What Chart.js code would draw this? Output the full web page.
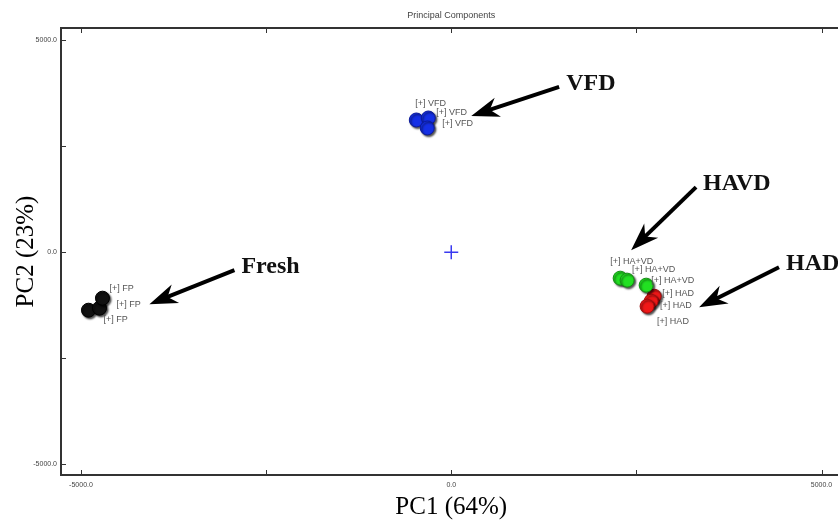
<!DOCTYPE html>
<html>
<head>
<meta charset="utf-8">
<title>Principal Components</title>
<script src="https://cdn.jsdelivr.net/npm/chart.js@4/dist/chart.umd.min.js"></script>
<style>
    html, body { margin: 0; padding: 0; background: #fff; overflow: hidden; }
    #pca { display: block; }
</style>
</head>
<body>
<canvas id="pca" width="850" height="522"></canvas>
<script>
// Scores (PC1, PC2)
const groups = ['FP', 'VFD', 'HA+VD', 'HAD'];
const fpPC1 = [-4899, -4750, -4710];
const fpPC2 = [-1368, -1321, -1085];
const vfdPC1 = [-472, -310, -324];
const vfdPC2 = [3113, 3160, 2925];
const havdPC1 = [2281, 2375, 2632];
const havdPC2 = [-613, -660, -778];
const hadPC1 = [2740, 2699, 2645];
const hadPC2 = [-1038, -1156, -1274];

const xTicks = [-5000, -2500, 0, 2500, 5000];
const yTicks = [-5000, -2500, 0, 2500, 5000];
const labelledTicks = [-5000, 0, 5000];

// Arrow notes, in data units (tail -> head)
const notes = [
    { text: 'Fresh', from: [-2928, -425], to: [-4076, -1226] },
    { text: 'VFD', from: [1457, 3892], to: [270, 3208] },
    { text: 'HAVD', from: [3306, 1533], to: [2429, 47] },
    { text: 'HAD', from: [4426, -354], to: [3347, -1297] }
];

// Where each point's "[+] name" tag sits, in px from the point
const tagShift = [
    [[15, 9], [17, -4], [7, -10]],
    [[-1, -16], [8, -5], [15, -4]],
    [[-10, -17], [5, -11], [5, -5]],
    [[8, -3], [9, 4], [10, 15]]
];

function points(xs, ys) {
    return xs.map((x, i) => ({ x: x, y: ys[i] }));
}

function tickText(v) {
    return labelledTicks.includes(v) ? v.toFixed(1) : '';
}

function drawArrow(ctx, x0, y0, x1, y1) {
    const len = Math.hypot(x1 - x0, y1 - y0);
    const ux = (x1 - x0) / len, uy = (y1 - y0) / len;
    const nx = -uy, ny = ux;
    const headLen = 28, headHalf = 10;
    ctx.beginPath();
    ctx.moveTo(x0, y0);
    ctx.lineTo(x1 - ux * headLen * 0.6, y1 - uy * headLen * 0.6);
    ctx.lineWidth = 4;
    ctx.strokeStyle = '#000';
    ctx.stroke();
    ctx.beginPath();
    ctx.moveTo(x1, y1);
    ctx.lineTo(x1 - ux * headLen + nx * headHalf, y1 - uy * headLen + ny * headHalf);
    ctx.lineTo(x1 - ux * headLen * 0.7, y1 - uy * headLen * 0.7);
    ctx.lineTo(x1 - ux * headLen - nx * headHalf, y1 - uy * headLen - ny * headHalf);
    ctx.closePath();
    ctx.fillStyle = '#000';
    ctx.fill();
}

const extras = {
    id: 'extras',
    beforeDatasetDraw(chart, args) {
        if (args.index > 3) return;
        const ctx = chart.ctx;
        ctx.save();
        ctx.shadowColor = 'rgba(0, 0, 0, 0.7)';
        ctx.shadowBlur = 2;
        ctx.shadowOffsetX = 1.5;
        ctx.shadowOffsetY = 1.5;
    },
    afterDatasetDraw(chart, args) {
        if (args.index > 3) return;
        chart.ctx.restore();
    },
    afterDatasetsDraw(chart) {
        const ctx = chart.ctx;
        const x = chart.scales.x, y = chart.scales.y;

        // point tags
        ctx.save();
        ctx.font = '9px "Liberation Sans", Arial, sans-serif';
        ctx.fillStyle = '#555';
        ctx.textAlign = 'left';
        ctx.textBaseline = 'middle';
        for (let d = 0; d < 4; d++) {
            const meta = chart.getDatasetMeta(d);
            meta.data.forEach((pt, i) => {
                const s = tagShift[d][i];
                ctx.fillText('[+] ' + groups[d], pt.x + s[0], pt.y + s[1]);
            });
        }
        ctx.restore();

        // arrows and their names
        ctx.save();
        notes.forEach(n => {
            const x0 = x.getPixelForValue(n.from[0]), y0 = y.getPixelForValue(n.from[1]);
            const x1 = x.getPixelForValue(n.to[0]), y1 = y.getPixelForValue(n.to[1]);
            drawArrow(ctx, x0, y0, x1, y1);
            ctx.font = 'bold 24px "Liberation Serif", "Times New Roman", serif';
            ctx.fillStyle = '#111';
            ctx.textAlign = 'left';
            ctx.textBaseline = 'middle';
            ctx.fillText(n.text, x0 + 7, y0 - 3);
        });
        ctx.restore();
    },
    afterDraw(chart) {
        const ctx = chart.ctx;
        const area = chart.chartArea;
        const x = chart.scales.x, y = chart.scales.y;
        ctx.save();
        ctx.strokeStyle = '#333';
        ctx.lineWidth = 2;
        // top frame line
        ctx.beginPath();
        ctx.moveTo(area.left - 1, area.top);
        ctx.lineTo(area.right, area.top);
        ctx.stroke();
        // inward tick marks
        ctx.lineWidth = 1;
        ctx.beginPath();
        xTicks.forEach(v => {
            const px = Math.round(x.getPixelForValue(v)) + 0.5;
            ctx.moveTo(px, area.bottom);
            ctx.lineTo(px, area.bottom - 5);
            ctx.moveTo(px, area.top);
            ctx.lineTo(px, area.top + 5);
        });
        yTicks.forEach(v => {
            const py = Math.round(y.getPixelForValue(v)) + 0.5;
            ctx.moveTo(area.left, py);
            ctx.lineTo(area.left + 5, py);
        });
        ctx.stroke();
        // title
        ctx.font = '9px "Liberation Sans", Arial, sans-serif';
        ctx.fillStyle = '#444';
        ctx.textAlign = 'center';
        ctx.textBaseline = 'middle';
        ctx.fillText('Principal Components', (area.left + area.right) / 2, 16);
        ctx.restore();
    }
};

const tickFont = { family: '"Liberation Sans", Arial, sans-serif', size: 7 };
const titleFont = { family: '"Liberation Serif", "Times New Roman", serif', size: 25 };

new Chart(document.getElementById('pca'), {
    type: 'scatter',
    data: {
        datasets: [
            { label: 'FP', data: points(fpPC1, fpPC2), backgroundColor: '#111', borderColor: '#000', borderWidth: 1, pointRadius: 7 },
            { label: 'VFD', data: points(vfdPC1, vfdPC2), backgroundColor: '#1530e6', borderColor: '#0b1a9a', borderWidth: 1, pointRadius: 7 },
            { label: 'HA+VD', data: points(havdPC1, havdPC2), backgroundColor: '#22e022', borderColor: '#139013', borderWidth: 1, pointRadius: 7 },
            { label: 'HAD', data: points(hadPC1, hadPC2), backgroundColor: '#f01818', borderColor: '#a00c0c', borderWidth: 1, pointRadius: 7 },
            { label: 'origin', data: [{ x: 0, y: 0 }], pointStyle: 'cross', pointRadius: 7, borderColor: '#3a3af0', borderWidth: 1.5 }
        ]
    },
    options: {
        responsive: false,
        animation: false,
        devicePixelRatio: 1,
        layout: { padding: { top: 28, right: 8, bottom: 0, left: 0 } },
        plugins: {
            legend: { display: false },
            tooltip: { enabled: false }
        },
        scales: {
            x: {
                type: 'linear',
                min: -5270,
                max: 5270,
                afterBuildTicks: s => { s.ticks = xTicks.map(v => ({ value: v })); },
                afterFit: s => { s.height = 47; },
                grid: { display: false, drawTicks: false },
                border: { display: true, color: '#333', width: 2 },
                ticks: { font: tickFont, color: '#444', padding: 6, maxRotation: 0, autoSkip: false, callback: tickText },
                title: { display: true, text: 'PC1 (64%)', font: titleFont, color: '#000', padding: { top: 0, bottom: 0 } }
            },
            y: {
                type: 'linear',
                min: -5250,
                max: 5280,
                afterBuildTicks: s => { s.ticks = yTicks.map(v => ({ value: v })); },
                afterFit: s => { s.width = 61; },
                grid: { display: false, drawTicks: false },
                border: { display: true, color: '#333', width: 2 },
                ticks: { font: tickFont, color: '#444', padding: 4, autoSkip: false, callback: tickText },
                title: { display: true, text: 'PC2 (23%)', font: titleFont, color: '#000', padding: { top: 11, bottom: 0 } }
            }
        }
    },
    plugins: [extras]
});
</script>
</body>
</html>
